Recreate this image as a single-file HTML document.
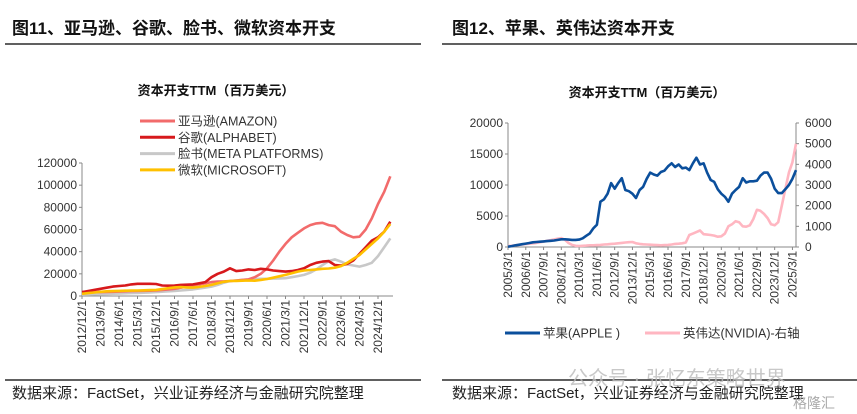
<!DOCTYPE html>
<html><head><meta charset="utf-8">
<style>
body{margin:0;background:#fff;width:857px;height:414px;overflow:hidden;font-family:"Liberation Sans","Noto Sans CJK SC",sans-serif;}
svg{position:absolute;left:0;top:0}
</style></head>
<body>
<svg id="s" width="857" height="414" font-family="Liberation Sans, Noto Sans CJK SC, sans-serif">
<text x="12" y="34" font-size="17" font-weight="bold" fill="#111">图11、亚马逊、谷歌、脸书、微软资本开支</text>
<text x="452" y="34" font-size="17" font-weight="bold" fill="#111">图12、苹果、英伟达资本开支</text>
<line x1="5" y1="44" x2="421" y2="44" stroke="#000" stroke-width="1.3"/>
<line x1="442" y1="44" x2="857" y2="44" stroke="#000" stroke-width="1.3"/>
<line x1="5" y1="380" x2="421" y2="380" stroke="#000" stroke-width="1.3"/>
<line x1="442" y1="380" x2="857" y2="380" stroke="#000" stroke-width="1.3"/>
<text x="12" y="398" font-size="15" fill="#222">数据来源：FactSet，兴业证券经济与金融研究院整理</text>
<text x="452" y="398" font-size="15" fill="#222">数据来源：FactSet，兴业证券经济与金融研究院整理</text>
<text x="568" y="385" font-size="20" fill="#bbb" opacity="0.8">公众号 · 张忆东策略世界</text>
<text x="793" y="408" font-size="14" fill="#aaa">格隆汇</text>
<text x="216" y="95" font-size="13" font-weight="bold" text-anchor="middle" fill="#111">资本开支TTM（百万美元）</text>
<text x="647" y="97" font-size="13" font-weight="bold" text-anchor="middle" fill="#111">资本开支TTM（百万美元）</text>
<g id="L"></g><g id="R"></g>
</svg>
<script>
// ---- Left chart data (quarterly from 2012/12 to 2025/6) ----
const leftTickLabels=["2012/12/1","2013/9/1","2014/6/1","2015/3/1","2015/12/1","2016/9/1","2017/6/1","2018/3/1","2018/12/1","2019/9/1","2020/6/1","2021/3/1","2021/12/1","2022/9/1","2023/6/1","2024/3/1","2024/12/1"];
const leftYTicks=[0,20000,40000,60000,80000,100000,120000];
const amazon=[3800,3600,3500,3500,3600,3800,4000,4200,4400,4600,4700,4800,5000,5500,6000,6500,7500,8500,9500,10500,11500,12500,13000,13200,13400,14000,14500,15000,17000,20000,25000,32000,40000,47000,53000,57000,61000,64000,65500,66000,64000,63000,58000,55000,53000,53500,60000,70000,83000,94000,108000];
const alphabet=[3500,4500,5500,6500,7500,8500,9000,9500,10500,11000,11000,11000,10800,9500,9300,9500,10000,10200,10500,11500,12500,17000,20000,22000,25000,22500,23000,24000,23500,24500,24000,23000,22500,22000,22500,23500,25000,28000,30000,31000,31500,28000,27500,29000,32000,38000,44000,50000,53000,58000,67000];
const meta=[1300,1400,1600,1700,1900,2100,2200,2400,2600,2800,3000,3200,3500,3900,4200,4600,5000,5500,6000,6800,7600,8500,10000,12000,13500,14000,14500,15000,15300,15500,15500,15700,15900,16100,17000,18000,19000,21000,24000,28000,31500,33000,31000,28500,27500,26500,28000,30000,36000,44000,52000];
const microsoft=[2000,2600,3200,3800,4200,4400,4600,4800,4900,5000,5100,5300,5500,6200,7000,7800,8000,7800,7600,8200,9000,10000,11500,12800,13500,13600,13800,14000,13800,14500,15300,16500,17800,19000,20500,22000,23000,23500,24000,24500,24800,25500,27000,30000,33500,37000,42000,47000,52000,58000,65000];
const leftSeriesNames=["亚马逊(AMAZON)","谷歌(ALPHABET)","脸书(META PLATFORMS)","微软(MICROSOFT)"];
// ---- Right chart data (quarterly from 2005/3 to 2025/6) ----
const rightTickLabels=["2005/3/1","2006/6/1","2007/9/1","2008/12/1","2010/3/1","2011/6/1","2012/9/1","2013/12/1","2015/3/1","2016/6/1","2017/9/1","2018/12/1","2020/3/1","2021/6/1","2022/9/1","2023/12/1","2025/3/1"];
const rightYTicksLeft=[0,5000,10000,15000,20000];
const rightYTicksRight=[0,1000,2000,3000,4000,5000,6000];
const apple=[50,150,250,350,450,550,650,750,800,850,900,950,1000,1050,1150,1250,1250,1200,1150,1150,1200,1400,1800,2200,3000,3600,7300,7700,8600,10300,9400,10300,11100,9200,9000,8600,7900,9200,9700,11000,12000,11700,11500,12100,12300,13000,13500,12900,13300,12700,12800,12400,13500,14400,13300,13500,12000,10800,10500,9300,8600,8100,7300,8600,9200,9700,11100,10400,10600,10600,10700,11500,12000,12000,11000,9400,8700,8700,9300,10000,11000,12400];
const nvidia=[50,60,80,100,120,140,160,180,200,230,260,300,330,370,400,430,350,200,100,60,50,60,70,80,80,90,100,120,130,150,160,180,200,220,230,240,180,150,130,120,110,100,90,80,90,100,120,150,160,180,220,580,650,720,800,620,600,580,550,500,520,650,1000,1100,1250,1200,1000,980,1050,1350,1800,1750,1600,1400,1100,1050,1200,2000,2800,3600,4100,5000];
const rightSeriesNames=["苹果(APPLE )","英伟达(NVIDIA)-右轴"];

const NS="http://www.w3.org/2000/svg";
function mk(p,tag,at,txt){const e=document.createElementNS(NS,tag);for(const k in at)e.setAttribute(k,at[k]);if(txt!==undefined)e.textContent=txt;p.appendChild(e);return e;}
const F="Liberation Sans, Noto Sans CJK SC, sans-serif";

// Left chart
(function(){
const g=document.getElementById('L');
const x0=82,dx=(378-82)/48,y0=296,y1=163;
const X=i=>x0+i*dx, Y=v=>y0-(v/120000)*(y0-y1);
leftYTicks.forEach(v=>{
 const t=mk(g,'text',{x:77,y:Y(v)+4,'font-size':12,'text-anchor':'end',fill:'#333','font-family':F},String(v));
 
 
 const l=mk(g,'line',{x1:X(0)-3,x2:X(0),y1:Y(v),y2:Y(v),stroke:'#888'});
 
 
});
const ax=mk(g,'line',{x1:x0,x2:x0,y1:y1,y2:y0,stroke:'#888'});


const bx=mk(g,'line',{x1:x0,x2:393,y1:y0,y2:y0,stroke:'#888'});


leftTickLabels.forEach((s,k)=>{
 const x=X(k*3);
 const l=mk(g,'line',{x1:x,x2:x,y1:y0,y2:y0+3,stroke:'#888'});
 
 
 const t=mk(g,'text',{x:0,y:0,'font-size':12,'text-anchor':'end',fill:'#333','font-family':F,transform:`translate(${x+4},${y0+4}) rotate(-90)`},s);
 
 
});
const series=[[amazon,'#f26b6b','amazon-line'],[alphabet,'#d7191c','alphabet-line'],[meta,'#c8c8c8','meta-line'],[microsoft,'#ffc000','microsoft-line']];
[2,0,1,3].forEach(si=>{
 const [d,c,n]=series[si];
 const p=mk(g,'polyline',{points:d.map((v,i)=>X(i).toFixed(1)+','+Y(v).toFixed(1)).join(' '),fill:'none',stroke:c,'stroke-width':2.6,'stroke-linejoin':'round'});
 
 
});
leftSeriesNames.forEach((s,i)=>{
 const y=121+i*16.3;
 const l=mk(g,'line',{x1:140,x2:175,y1:y,y2:y,stroke:series[i][1],'stroke-width':3});
 
 
 const t=mk(g,'text',{x:178,y:y+4.5,'font-size':12.5,fill:'#333','font-family':F},s);
 
 
});
})();

// Right chart
(function(){
const g=document.getElementById('R');
const x0=508,dx=(796-508)/81,y0=247,y1=123,xr=796;
const X=i=>x0+i*dx, YL=v=>y0-(v/20000)*(y0-y1), YR=v=>y0-(v/6000)*(y0-y1);
rightYTicksLeft.forEach(v=>{
 const t=mk(g,'text',{x:503,y:YL(v)+4,'font-size':12,'text-anchor':'end',fill:'#333','font-family':F},String(v));
 
 
 const l=mk(g,'line',{x1:x0-3,x2:x0,y1:YL(v),y2:YL(v),stroke:'#888'});
 
 
});
rightYTicksRight.forEach(v=>{
 const t=mk(g,'text',{x:805,y:YR(v)+4,'font-size':12,fill:'#333','font-family':F},String(v));
 
 
 const l=mk(g,'line',{x1:xr,x2:xr+3,y1:YR(v),y2:YR(v),stroke:'#888'});
 
 
});
[[x0,'right-chart-left-axis'],[xr,'right-chart-right-axis']].forEach(([x,n])=>{
 const a=mk(g,'line',{x1:x,x2:x,y1:y1,y2:y0,stroke:'#888'});
 
 
});
const bx=mk(g,'line',{x1:x0,x2:xr,y1:y0,y2:y0,stroke:'#888'});


rightTickLabels.forEach((s,k)=>{
 const x=X(k*5);
 const l=mk(g,'line',{x1:x,x2:x,y1:y0,y2:y0+3,stroke:'#888'});
 
 
 const t=mk(g,'text',{x:0,y:0,'font-size':12,'text-anchor':'end',fill:'#333','font-family':F,transform:`translate(${x+4},${y0+4}) rotate(-90)`},s);
 
 
});
const pn=mk(g,'polyline',{points:nvidia.map((v,i)=>X(i).toFixed(1)+','+YR(v).toFixed(1)).join(' '),fill:'none',stroke:'#ffb6c1','stroke-width':2.6,'stroke-linejoin':'round'});


const pa=mk(g,'polyline',{points:apple.map((v,i)=>X(i).toFixed(1)+','+YL(v).toFixed(1)).join(' '),fill:'none',stroke:'#0b4f9c','stroke-width':2.6,'stroke-linejoin':'round'});


const cols=['#0b4f9c','#ffb6c1'],lx=[505,645];
rightSeriesNames.forEach((s,i)=>{
 const l=mk(g,'line',{x1:lx[i],x2:lx[i]+35,y1:333,y2:333,stroke:cols[i],'stroke-width':3});
 
 
 const t=mk(g,'text',{x:lx[i]+38,y:337.5,'font-size':12.5,fill:'#333','font-family':F},s);
 
 
});
})();
</script>
</body></html>
